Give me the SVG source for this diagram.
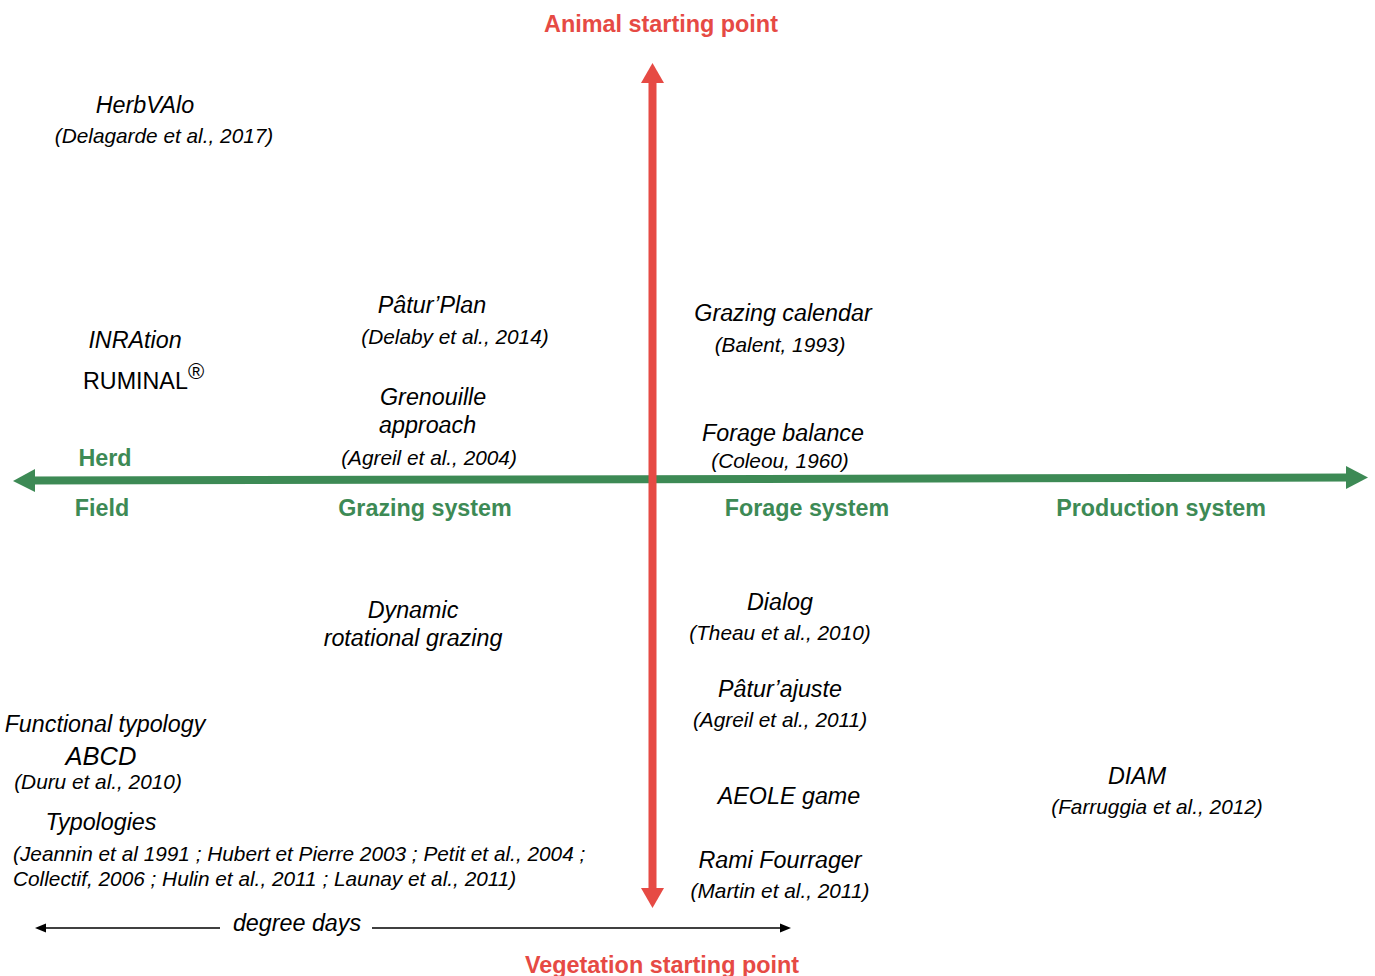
<svg xmlns="http://www.w3.org/2000/svg" width="1375" height="976" viewBox="0 0 1375 976">
<style>
.t{font-family:"Liberation Sans",Arial,sans-serif;font-style:italic;font-size:23.3px;fill:#000}
.c{font-family:"Liberation Sans",Arial,sans-serif;font-style:italic;font-size:20.8px;fill:#000}
.g{font-family:"Liberation Sans",Arial,sans-serif;font-weight:bold;font-size:23.3px;fill:#3d8a55}
.r{font-family:"Liberation Sans",Arial,sans-serif;font-weight:bold;font-size:23.4px;fill:#e64a44}
.m{text-anchor:middle}
</style>
<rect width="1375" height="976" fill="#fff"/>
<g id="connectors">
  <line x1="30" y1="480.6" x2="1350" y2="477.6" stroke="#3d8a55" stroke-width="8"/>
  <polygon points="13,481 35,469 35,492" fill="#3d8a55"/>
  <polygon points="1368,477.5 1346,466 1346,489" fill="#3d8a55"/>
  <line x1="652.5" y1="78" x2="652.5" y2="892" stroke="#e64a44" stroke-width="8"/>
  <polygon points="652.5,63 641,83 664,83" fill="#e64a44"/>
  <polygon points="652.5,908 641,888 664,888" fill="#e64a44"/>
  <line x1="44" y1="928" x2="220" y2="928" stroke="#000" stroke-width="1.5"/>
  <polygon points="35,928 46,923.5 46,932.5" fill="#000"/>
  <line x1="372" y1="928" x2="782" y2="928" stroke="#000" stroke-width="1.5"/>
  <polygon points="791,928 780,923.5 780,932.5" fill="#000"/>
</g>
<g id="axis-labels">
  <text class="r m" x="661" y="32">Animal starting point</text>
  <text class="r m" x="662" y="973">Vegetation starting point</text>
  <text class="g m" x="105" y="466">Herd</text>
  <text class="g m" x="102" y="516">Field</text>
  <text class="g m" x="425" y="516">Grazing system</text>
  <text class="g m" x="807" y="516">Forage system</text>
  <text class="g m" x="1161" y="516">Production system</text>
  <text class="t m" x="297" y="931">degree days</text>
</g>
<g id="herbvalo">
  <text class="t m" x="145" y="113">HerbVAlo</text>
  <text class="c m" x="164" y="143">(Delagarde et al., 2017)</text>
</g>
<g id="paturplan">
  <text class="t m" x="432" y="313">Pâtur’Plan</text>
  <text class="c m" x="455" y="344">(Delaby et al., 2014)</text>
</g>
<g id="grazing-calendar">
  <text class="t m" x="783" y="321">Grazing calendar</text>
  <text class="c m" x="780" y="352">(Balent, 1993)</text>
</g>
<g id="inration">
  <text class="t m" x="135" y="348">INRAtion</text>
  <text x="83" y="389" font-family="Liberation Sans, Arial, sans-serif" font-size="23.3">RUMINAL</text>
  <text x="188" y="379" font-family="Liberation Sans, Arial, sans-serif" font-size="22">®</text>
</g>
<g id="grenouille">
  <text class="t" x="380" y="405">Grenouille</text>
  <text class="t" x="379" y="433">approach</text>
  <text class="c m" x="429" y="465">(Agreil et al., 2004)</text>
</g>
<g id="forage-balance">
  <text class="t m" x="783" y="441">Forage balance</text>
  <text class="c m" x="780" y="468">(Coleou, 1960)</text>
</g>
<g id="dynamic">
  <text class="t m" x="413" y="618">Dynamic</text>
  <text class="t m" x="413" y="646">rotational grazing</text>
</g>
<g id="dialog">
  <text class="t m" x="780" y="610">Dialog</text>
  <text class="c m" x="780" y="640">(Theau et al., 2010)</text>
</g>
<g id="paturajuste">
  <text class="t m" x="780" y="697">Pâtur’ajuste</text>
  <text class="c m" x="780" y="727">(Agreil et al., 2011)</text>
</g>
<g id="functional-typology">
  <text class="t m" x="105" y="732">Functional typology</text>
  <text class="t m" x="101" y="765" style="font-size:25.5px">ABCD</text>
  <text class="c m" x="98" y="789">(Duru et al., 2010)</text>
</g>
<g id="aeole">
  <text class="t m" x="789" y="804">AEOLE game</text>
</g>
<g id="diam">
  <text class="t m" x="1137" y="784">DIAM</text>
  <text class="c m" x="1157" y="814">(Farruggia et al., 2012)</text>
</g>
<g id="typologies">
  <text class="t m" x="101" y="830">Typologies</text>
  <text class="c" x="13" y="861">(Jeannin et al 1991 ; Hubert et Pierre 2003 ; Petit et al., 2004 ;</text>
  <text class="c" x="13" y="886">Collectif, 2006 ; Hulin et al., 2011 ; Launay et al., 2011)</text>
</g>
<g id="rami">
  <text class="t m" x="780" y="868">Rami Fourrager</text>
  <text class="c m" x="780" y="898">(Martin et al., 2011)</text>
</g>
</svg>
